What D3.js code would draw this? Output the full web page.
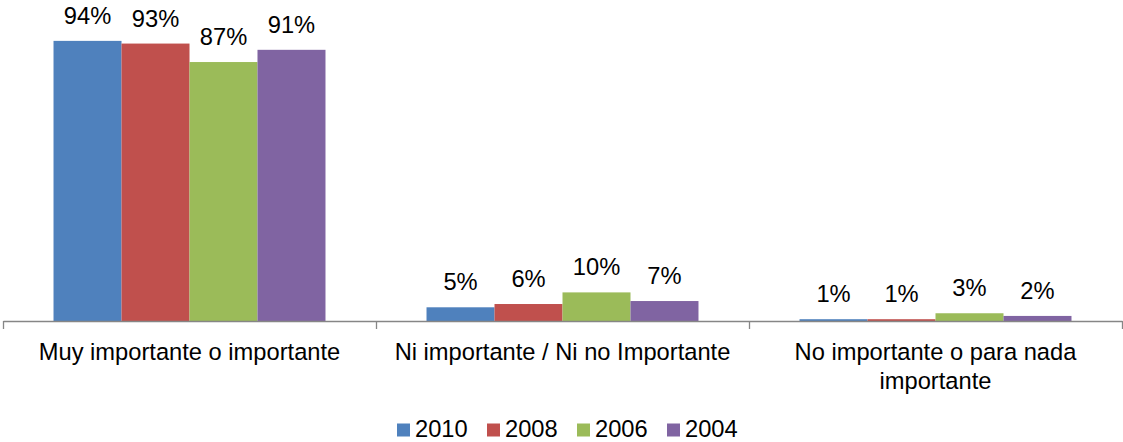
<!DOCTYPE html>
<html>
<head>
<meta charset="utf-8">
<script src="https://cdn.jsdelivr.net/npm/d3@7"></script>
<style>
  html, body { margin: 0; padding: 0; background: #fff; }
  svg { display: block; }
  text { font-family: "Liberation Sans", Arial, sans-serif; fill: #000; }
</style>
</head>
<body>
<svg id="chart" width="1123" height="442"></svg>
<script>
// Data
const categories = ["Muy importante o importante", "Ni importante / Ni no Importante", "No importante o para nada importante"];
const categoryLines = [["Muy importante o importante"], ["Ni importante / Ni no Importante"], ["No importante o para nada", "importante"]];
const seriesNames = ["2010", "2008", "2006", "2004"];
const values2010 = [94.0, 4.6, 0.6];
const values2008 = [93.1, 5.7, 0.6];
const values2006 = [86.9, 9.6, 2.6];
const values2004 = [91.0, 6.7, 1.7];
const dataLabels2010 = ["94%", "5%", "1%"];
const dataLabels2008 = ["93%", "6%", "1%"];
const dataLabels2006 = ["87%", "10%", "3%"];
const dataLabels2004 = ["91%", "7%", "2%"];
const colors = ["#4F81BD", "#C0504D", "#9BBB59", "#8064A2"];

const seriesValues = [values2010, values2008, values2006, values2004];
const seriesLabels = [dataLabels2010, dataLabels2008, dataLabels2006, dataLabels2004];

const svg = d3.select("#chart");
const fontSize = 23.7;

const x0 = d3.scaleBand().domain(categories).range([3, 1122]).padding(0);
const x1 = d3.scaleBand().domain(seriesNames).range([0, x0.bandwidth()]).paddingInner(0).paddingOuter(0.743);
const y = d3.scaleLinear().domain([0, 100]).range([321, 23]);
const color = d3.scaleOrdinal().domain(seriesNames).range(colors);

const rows = [];
seriesNames.forEach((s, si) => {
  categories.forEach((c, ci) => {
    rows.push({ s, c, v: seriesValues[si][ci], label: seriesLabels[si][ci] });
  });
});

// Bars
svg.append("g").selectAll("rect").data(rows).join("rect")
  .attr("x", d => x0(d.c) + x1(d.s))
  .attr("y", d => y(d.v))
  .attr("width", x1.bandwidth())
  .attr("height", d => y(0) - y(d.v))
  .attr("fill", d => color(d.s));

// Data labels
svg.append("g").selectAll("text").data(rows).join("text")
  .attr("x", d => x0(d.c) + x1(d.s) + x1.bandwidth() / 2)
  .attr("y", d => y(d.v) - 17)
  .attr("text-anchor", "middle")
  .style("font-size", fontSize + "px")
  .text(d => d.label);

// Axis
const xb = d3.scaleLinear().domain([0, categories.length]).range(x0.range());
const axis = svg.append("g").attr("transform", `translate(0,${y(0)})`)
  .call(d3.axisBottom(xb).tickValues(d3.range(categories.length + 1)).tickFormat("").tickSize(8).tickSizeOuter(0));
axis.selectAll("path, line").attr("stroke", "#868686").attr("stroke-width", 1.3);

// Category labels
const catG = svg.append("g").selectAll("text").data(categories).join("text")
  .attr("x", c => x0(c) + x0.bandwidth() / 2)
  .attr("y", 360)
  .attr("text-anchor", "middle")
  .style("font-size", fontSize + "px");
catG.selectAll("tspan").data((c, i) => categoryLines[i]).join("tspan")
  .attr("x", function () { return d3.select(this.parentNode).attr("x"); })
  .attr("dy", (d, i) => i === 0 ? 0 : 29)
  .text(d => d);

// Legend
const legend = svg.append("g").selectAll("g").data(seriesNames).join("g")
  .attr("transform", (d, i) => `translate(${397 + i * 90},0)`);
legend.append("rect").attr("x", 0).attr("y", 423.5).attr("width", 13).attr("height", 13).attr("fill", d => color(d));
legend.append("text").attr("x", 18).attr("y", 436.5).style("font-size", fontSize + "px").text(d => d);
</script>
</body>
</html>
